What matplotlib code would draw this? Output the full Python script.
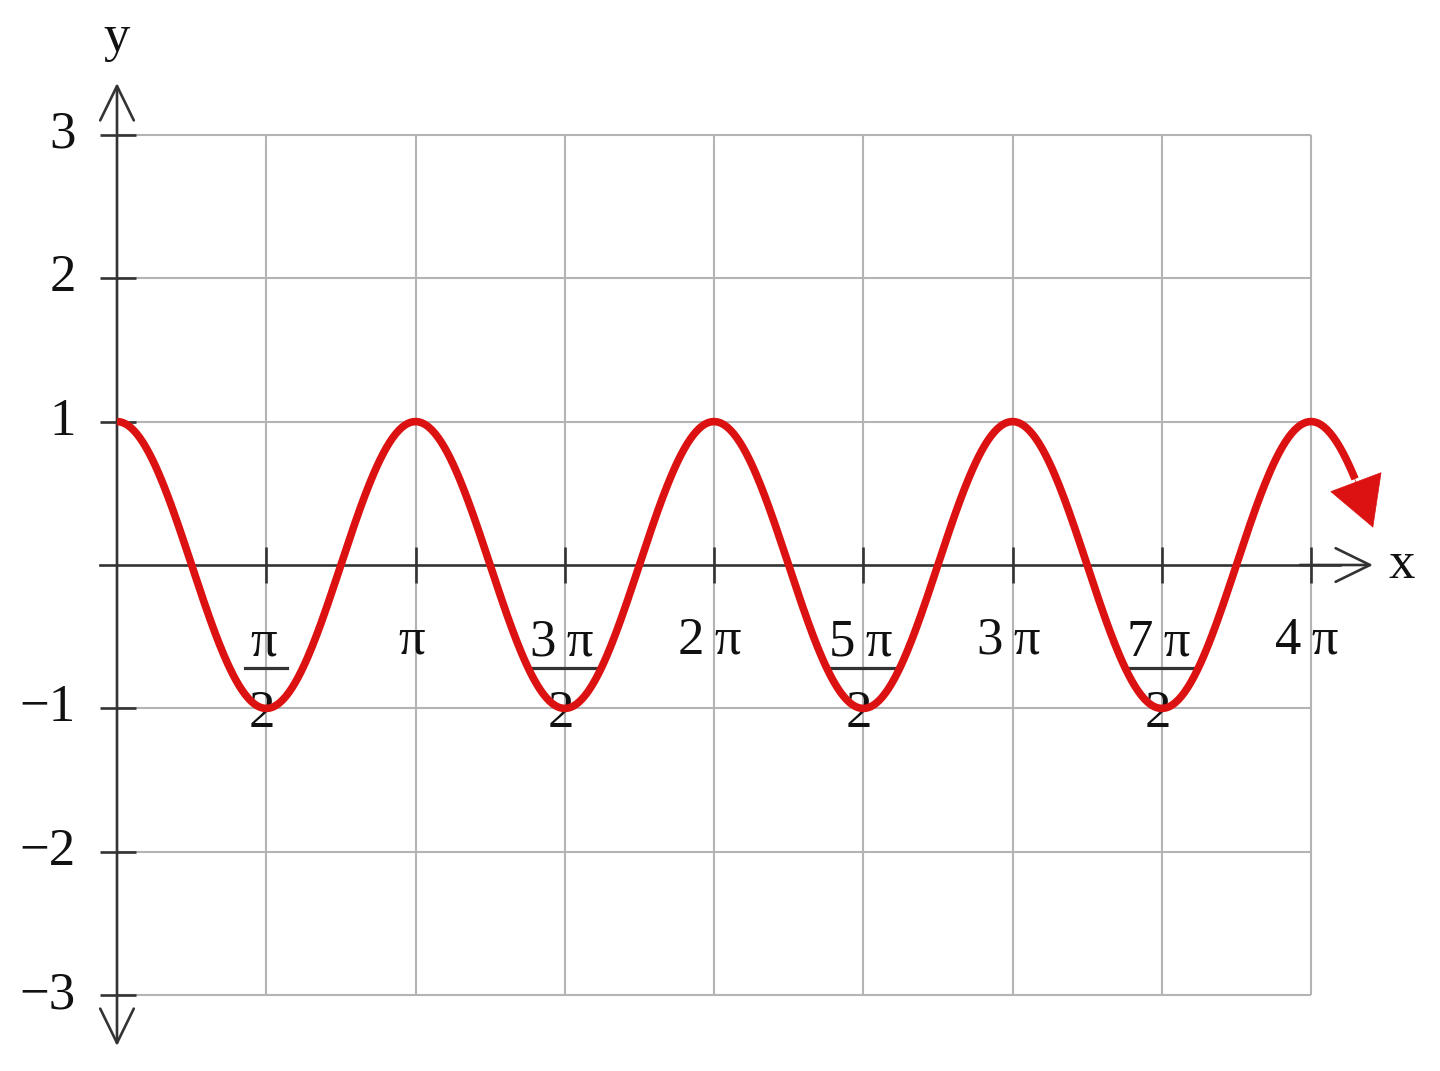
import numpy as np
import matplotlib
matplotlib.use('Agg')
import matplotlib.pyplot as plt

# curve y = A*cos(k*x), drawn from 0 to just past 4*pi
amplitude = 1.0
k = 2.0
x_start = 0.0
x_curve_end = 13.03
x_arrow_tip = 13.22

y_ticks = [-3, -2, -1, 1, 2, 3]
y_tick_labels = ['\u22123', '\u22122', '\u22121', '1', '2', '3']
x_ticks_halfpi = [1, 2, 3, 4, 5, 6, 7, 8]
x_numerators = ['\u03c0', '\u03c0', '3\u2009\u03c0', '2\u2009\u03c0', '5\u2009\u03c0', '3\u2009\u03c0', '7\u2009\u03c0', '4\u2009\u03c0']
x_denominators = ['2', '', '2', '', '2', '', '2', '']

W, H = 1440, 1071
X0, PX_HALFPI = 117, 149.25
Y0, PX_UNIT = 565, 143.4


def px2x(px):
    return (px - X0) / PX_HALFPI * (np.pi / 2)


def px2y(py):
    return (Y0 - py) / PX_UNIT


plt.rcParams['font.family'] = ['Liberation Serif', 'DejaVu Serif']

fig = plt.figure(figsize=(W / 100, H / 100), dpi=100)
ax = fig.add_axes([0, 0, 1, 1])
ax.set_xlim(px2x(0), px2x(W))
ax.set_ylim(px2y(H), px2y(0))
ax.axis('off')

grid_c = '#b4b4b4'
axis_c = '#333333'
red = '#dc1212'
x_max = 4 * np.pi

# grid
ax.vlines([t * np.pi / 2 for t in x_ticks_halfpi], -3, 3, color=grid_c, lw=1.5, zorder=1)
ax.hlines([-3, -2, -1, 1, 2, 3], 0, x_max, color=grid_c, lw=1.5, zorder=1)

# axes with open arrowheads
head = dict(arrowstyle='->,head_length=0.45,head_width=0.22', color=axis_c, lw=1.9,
            mutation_scale=55, shrinkA=0, shrinkB=0)
ax.annotate('', xy=(0, px2y(83)), xytext=(0, 0), arrowprops=head, zorder=3)
ax.annotate('', xy=(0, px2y(1046)), xytext=(0, 0), arrowprops=head, zorder=3)
ax.plot([px2x(100), px2x(1340)], [0, 0], color=axis_c, lw=1.9, zorder=3)
ax.annotate('', xy=(px2x(1373), 0), xytext=(px2x(1300), 0), arrowprops=head, zorder=3)

# tick marks
ax.hlines(y_ticks, px2x(100), px2x(136), color=axis_c, lw=1.9, zorder=3)
ax.vlines([t * np.pi / 2 for t in x_ticks_halfpi], px2y(583), px2y(547),
          color=axis_c, lw=1.9, zorder=3)

fs = 38
for v, lab in zip(y_ticks, y_tick_labels):
    ax.text(px2x(76), v, lab, ha='right', va='center', fontsize=fs, color='#111111')

for t, num, den in zip(x_ticks_halfpi, x_numerators, x_denominators):
    xc = t * np.pi / 2
    if den:
        ax.text(xc - px2x(X0 + 3), px2y(655), num, ha='center', va='baseline',
                fontsize=fs, color='#111111', zorder=2)
        half = 21 if len(num) == 1 else 33
        ax.plot([xc - px2x(X0 + half), xc + px2x(X0 + half)], [px2y(668), px2y(668)],
                color=axis_c, lw=2.3, zorder=2)
        ax.text(xc - px2x(X0 + 4), px2y(727), den, ha='center', va='baseline',
                fontsize=fs, color='#111111', zorder=2)
    else:
        ax.text(xc - px2x(X0 + 4), px2y(653), num, ha='center', va='baseline',
                fontsize=fs, color='#111111', zorder=2)

ax.text(0, px2y(38), 'y', ha='center', va='center', fontsize=fs, color='#111111')
ax.text(px2x(1402), px2y(565), 'x', ha='center', va='center', fontsize=fs, color='#111111')

# curve
xs = np.linspace(x_start, x_curve_end, 800)
ax.plot(xs, amplitude * np.cos(k * xs), color=red, lw=5.5, solid_capstyle='butt', zorder=4)
ax.annotate('', xy=(x_arrow_tip, amplitude * np.cos(k * x_arrow_tip)),
            xytext=(x_curve_end - 0.03, amplitude * np.cos(k * (x_curve_end - 0.03))),
            arrowprops=dict(arrowstyle='-|>,head_length=0.75,head_width=0.42', color=red,
                            lw=0.5, mutation_scale=46, shrinkA=0, shrinkB=0), zorder=4)

fig.savefig('out.png', dpi=100, facecolor='white')
